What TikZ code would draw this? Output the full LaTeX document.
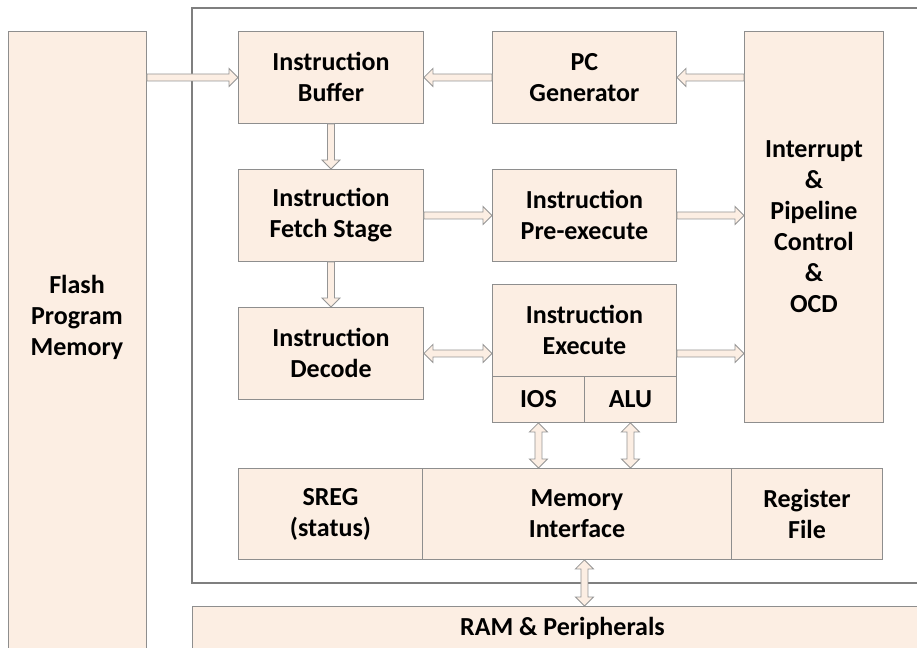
\documentclass[tikz,border=0pt]{standalone}
\usepackage{fontspec}
\setmainfont{Carlito}
\usetikzlibrary{calc}
\definecolor{peach}{HTML}{FCEEE3}
\definecolor{boxgray}{HTML}{8E8E8E}
\definecolor{framegray}{HTML}{7F7F7F}
\definecolor{arrowgray}{HTML}{959595}
\newcommand{\onearrow}[2]{%
  \coordinate (hd) at ($(#2)!9pt!(#1)$);
  \draw [arrowline] ($(#1)!3.5pt!90:(#2)$) -- ($(hd)!3.5pt!-90:(#1)$) -- ($(hd)!9pt!-90:(#1)$) -- (#2)
    -- ($(hd)!9pt!90:(#1)$) -- ($(hd)!3.5pt!90:(#1)$) -- ($(#1)!3.5pt!-90:(#2)$) -- cycle;}
\newcommand{\twoarrow}[2]{%
  \coordinate (ha) at ($(#1)!9pt!(#2)$);
  \coordinate (hb) at ($(#2)!9pt!(#1)$);
  \draw [arrowline] (#1) -- ($(ha)!9pt!90:(#2)$) -- ($(ha)!3.5pt!90:(#2)$) -- ($(hb)!3.5pt!-90:(#1)$)
    -- ($(hb)!9pt!-90:(#1)$) -- (#2) -- ($(hb)!9pt!90:(#1)$) -- ($(hb)!3.5pt!90:(#1)$)
    -- ($(ha)!3.5pt!-90:(#2)$) -- ($(ha)!9pt!-90:(#2)$) -- cycle;}
\begin{document}
\begin{tikzpicture}[x=1pt,y=-1pt,
    boxtext/.style={inner sep=0pt,align=center,font=\fontsize{26}{31}\selectfont\bfseries},
    box/.style={boxtext,draw=boxgray,fill=peach,line width=0.9pt,anchor=north west},
    arrowline/.style={draw=arrowgray,fill=peach,line width=0.8pt,line join=miter},
    frame/.style={draw=framegray,line width=1.3pt}]
  \useasboundingbox (0,0) rectangle (917,647);
  \clip (0,0) rectangle (917,647);
  \draw [frame] (935,8) -- (192,8) -- (192,583) -- (935,583);
  \node [box,minimum width=138,minimum height=630] (flash) at (8,31) {};
  \node [boxtext] (flashtext) at (77,317) {Flash\\Program\\Memory};
  \node [box,minimum width=740,minimum height=44] (ram) at (192,606) {RAM \& Peripherals};
  \node [box,minimum width=185,minimum height=92] (buf) at (238,31) {Instruction\\Buffer};
  \node [box,minimum width=184,minimum height=92] (pcgen) at (492,31) {PC\\Generator};
  \node [box,minimum width=139,minimum height=391] (intr) at (744,31) {Interrupt\\\&\\Pipeline\\Control\\\&\\OCD};
  \node [box,minimum width=185,minimum height=92] (fetch) at (238,169) {Instruction\\Fetch Stage};
  \node [box,minimum width=184,minimum height=92] (preexe) at (492,169) {Instruction\\Pre-execute};
  \node [box,minimum width=185,minimum height=92] (decode) at (238,307) {Instruction\\Decode};
  \node [box,minimum width=184,minimum height=92] (exe) at (492,284) {Instruction\\Execute};
  \node [box,minimum width=92,minimum height=46] (ios) at (492,376) {IOS};
  \node [box,minimum width=92,minimum height=46] (alu) at (584,376) {ALU};
  \node [box,minimum width=184,minimum height=91] (sreg) at (238,468) {SREG\\(status)};
  \node [box,minimum width=309,minimum height=91] (mem) at (422,468) {Memory\\Interface};
  \node [box,minimum width=151,minimum height=91] (regf) at (731,468) {Register\\File};
  \onearrow{flash.east |- buf.west}{buf.west}
  \onearrow{pcgen.west}{buf.east}
  \onearrow{intr.west |- pcgen.east}{pcgen.east}
  \onearrow{buf.south}{fetch.north}
  \onearrow{fetch.south}{decode.north}
  \onearrow{fetch.east}{preexe.west}
  \onearrow{preexe.east}{intr.west |- preexe.east}
  \twoarrow{decode.east}{exe.west |- decode.east}
  \onearrow{exe.east |- decode.east}{intr.west |- decode.east}
  \twoarrow{ios.south}{mem.north -| ios.south}
  \twoarrow{alu.south}{mem.north -| alu.south}
  \twoarrow{mem.south -| exe.south}{ram.north -| exe.south}
\end{tikzpicture}
\end{document}
